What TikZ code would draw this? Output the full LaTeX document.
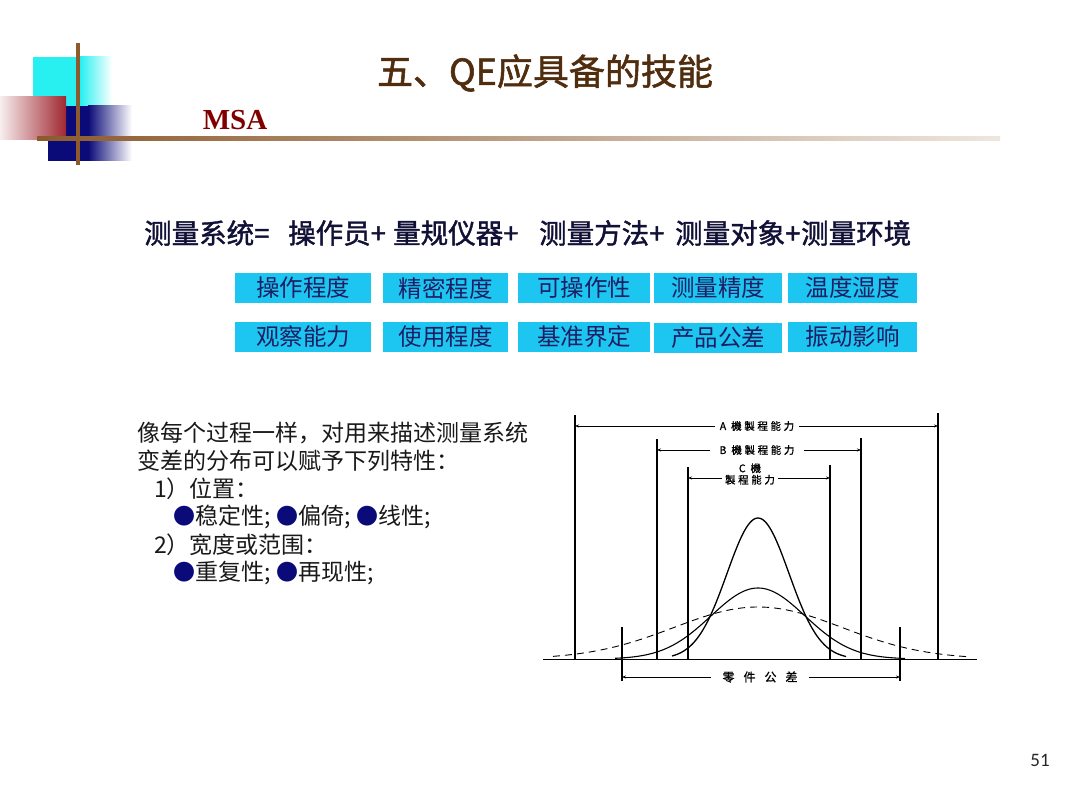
\documentclass[tikz,border=0pt]{standalone}
\usepackage{fontspec}
\setmainfont{Liberation Serif}
\newfontfamily\cjk{Noto Sans CJK SC}
\newfontfamily\cjkb[FakeBold=1.5]{Noto Sans CJK SC}
\newfontfamily\cjks[FakeBold=1,LetterSpace=25]{Noto Sans CJK SC}
\newfontfamily\calfont{Carlito}
\usetikzlibrary{calc,arrows.meta}
\definecolor{boxcyan}{RGB}{28,198,240}
\definecolor{navytxt}{RGB}{30,30,100}
\definecolor{navydeco}{RGB}{10,10,120}
\definecolor{cyandeco}{RGB}{40,240,240}
\definecolor{reddeco}{RGB}{160,40,50}
\definecolor{browndeco}{RGB}{140,90,45}
\definecolor{titlebrown}{RGB}{80,45,15}
\definecolor{msared}{RGB}{128,0,0}
\definecolor{bodytxt}{RGB}{25,25,25}
\tikzset{
  kbox/.style={fill=boxcyan, inner sep=0pt, minimum height=30pt, text=navytxt, font=\cjk\fontsize{23.5}{24}\selectfont},
  eqpart/.style={anchor=west, inner sep=0pt, font=\cjkb\fontsize{27.5}{28}\selectfont, text=navytxt!55!black},
  vline/.style={line width=1.4pt, black},
  dimr/.style={line width=0.7pt, black, -{Stealth[length=4pt,width=3pt]}},
  diml/.style={line width=0.7pt, black, {Stealth[length=4pt,width=3pt]}-},
  clabel/.style={font=\cjks\fontsize{10.5}{11}\selectfont, inner sep=1pt},
  curve/.style={line width=1.3pt, black, smooth},
  bodyline/.style={anchor=west, inner sep=0pt, text=bodytxt, font=\cjk\fontsize{23}{24}\selectfont}
}
\newcommand{\bu}{{\color{navydeco}\fontsize{22}{24}\selectfont ●}}
\begin{document}
\begin{tikzpicture}[x=1pt,y=-1pt]
\useasboundingbox (0,0) rectangle (1080,794);
\fill[white] (0,0) rectangle (1080,794);
% decoration
\fill[cyandeco] (33,57) rectangle (80,106);
\shade[left color=cyandeco, right color=white] (80,57) rectangle (112,106);
\fill[navydeco] (48,106) rectangle (88,161);
\shade[left color=navydeco, right color=white] (88,106) rectangle (132,161);
\shade[left color=reddeco!8, right color=reddeco] (0,97) rectangle (66,140);
\draw[browndeco, line width=3.5pt] (78,43) -- (78,165);
\shade[left color=browndeco, right color=browndeco!15] (37,137) rectangle (1000,141);
% title
\node[font=\cjkb\fontsize{36}{37}\selectfont, text=titlebrown] (title) at (545,73) {五、QE应具备的技能};
\node[font=\bfseries\fontsize{29}{29}\selectfont, text=msared] (msa) at (235,120) {MSA};
% equation
\node[eqpart] (eq1) at (144,233) {测量系统=};
\node[eqpart] (eq2) at (288,233) {操作员+};
\node[eqpart] (eq3) at (393,233) {量规仪器+};
\node[eqpart] (eq4) at (539,233) {测量方法+};
\node[eqpart] (eq5) at (675,233) {测量对象+};
\node[eqpart] (eq6) at (801,233) {测量环境};
% boxes
\node[kbox, minimum width=136pt] (b11) at (303,288) {操作程度};
\node[kbox, minimum width=125pt] (b12) at (445.5,288) {精密程度};
\node[kbox, minimum width=132pt] (b13) at (584,288) {可操作性};
\node[kbox, minimum width=128pt] (b14) at (718,288) {测量精度};
\node[kbox, minimum width=129pt] (b15) at (852.5,288) {温度湿度};
\node[kbox, minimum width=136pt] (b21) at (303,337) {观察能力};
\node[kbox, minimum width=125pt] (b22) at (445.5,337) {使用程度};
\node[kbox, minimum width=132pt] (b23) at (584,337) {基准界定};
\node[kbox, minimum width=128pt] (b24) at (718,338) {产品公差};
\node[kbox, minimum width=129pt] (b25) at (852.5,337) {振动影响};
% left text
\node[bodyline] (t1) at (137,433) {像每个过程一样，对用来描述测量系统};
\node[bodyline] (t2) at (137,461) {变差的分布可以赋予下列特性：};
\node[bodyline] (t3) at (154,489) {1）位置：};
\node[bodyline] (t4) at (173,517) {\bu 稳定性;\hspace{6pt}\bu 偏倚;\hspace{6pt}\bu 线性;};
\node[bodyline] (t5) at (154,545) {2）宽度或范围：};
\node[bodyline] (t6) at (173,573) {\bu 重复性;\hspace{6pt}\bu 再现性;};
% chart
\coordinate (base0) at (543,659);
\coordinate (base1) at (977,659);
\draw[line width=1pt] (base0) -- (base1);
\coordinate (AL0) at (575,659); \coordinate (AL1) at (575,415);
\coordinate (AR0) at (938,659); \coordinate (AR1) at (938,413);
\coordinate (BL0) at (657,659); \coordinate (BL1) at (657,439);
\coordinate (BR0) at (861,659); \coordinate (BR1) at (861,438);
\coordinate (CL0) at (688,659); \coordinate (CL1) at (688,467);
\coordinate (CR0) at (830,659); \coordinate (CR1) at (830,465);
\coordinate (TL0) at (622,627); \coordinate (TL1) at (622,681);
\coordinate (TR0) at (900,627); \coordinate (TR1) at (900,681);
\foreach \a/\b in {AL0/AL1,AR0/AR1,BL0/BL1,BR0/BR1,CL0/CL1,CR0/CR1,TL0/TL1,TR0/TR1}
  \draw[vline] (\a) -- (\b);
\node[clabel] (la) at (757,426) {A 機製程能力};
\node[clabel] (lb) at (757,450) {B 機製程能力};
\node[clabel, align=center, font=\cjks\fontsize{10.5}{11.5}\selectfont] (lc) at (750,474) {C 機\\製程能力};
\node[font=\cjks\fontsize{12}{12}\selectfont, inner sep=1pt] (lt) at (760,677) {零\hspace{9pt}件\hspace{9pt}公\hspace{9pt}差};
\draw[diml] (AL1 |- la) -- ([xshift=-4pt]la.west);
\draw[dimr] ([xshift=4pt]la.east) -- (AR1 |- la);
\draw[diml] (BL1 |- lb) -- ([xshift=-8pt]lb.west);
\draw[dimr] ([xshift=8pt]lb.east) -- (BR1 |- lb);
\coordinate (lcm) at (750,478);
\draw[diml] (CL1 |- lcm) -- ([xshift=-2pt]lc.west |- lcm);
\draw[dimr] ([xshift=2pt]lc.east |- lcm) -- (CR1 |- lcm);
\draw[diml] (TL1 |- lt) -- ([xshift=-10pt]lt.west);
\draw[dimr] ([xshift=10pt]lt.east) -- (TR1 |- lt);
% curves
\draw[curve, domain=672:846, samples=90] plot (\x, {659-141*exp(-0.5*((\x-758)/31)^2)});
\draw[curve, line width=1.1pt, domain=615:905, samples=90] plot (\x, {659-71*exp(-0.5*((\x-758)/47)^2)});
\draw[line width=0.9pt, dashed, dash pattern=on 7pt off 5pt, smooth, domain=553:968, samples=90] plot (\x, {659-52*exp(-0.5*((\x-758)/84)^2)});
% page number
\node[font=\calfont\fontsize{19}{19}\selectfont, text=black!85] (pg) at (1040,760) {51};
\end{tikzpicture}
\end{document}
